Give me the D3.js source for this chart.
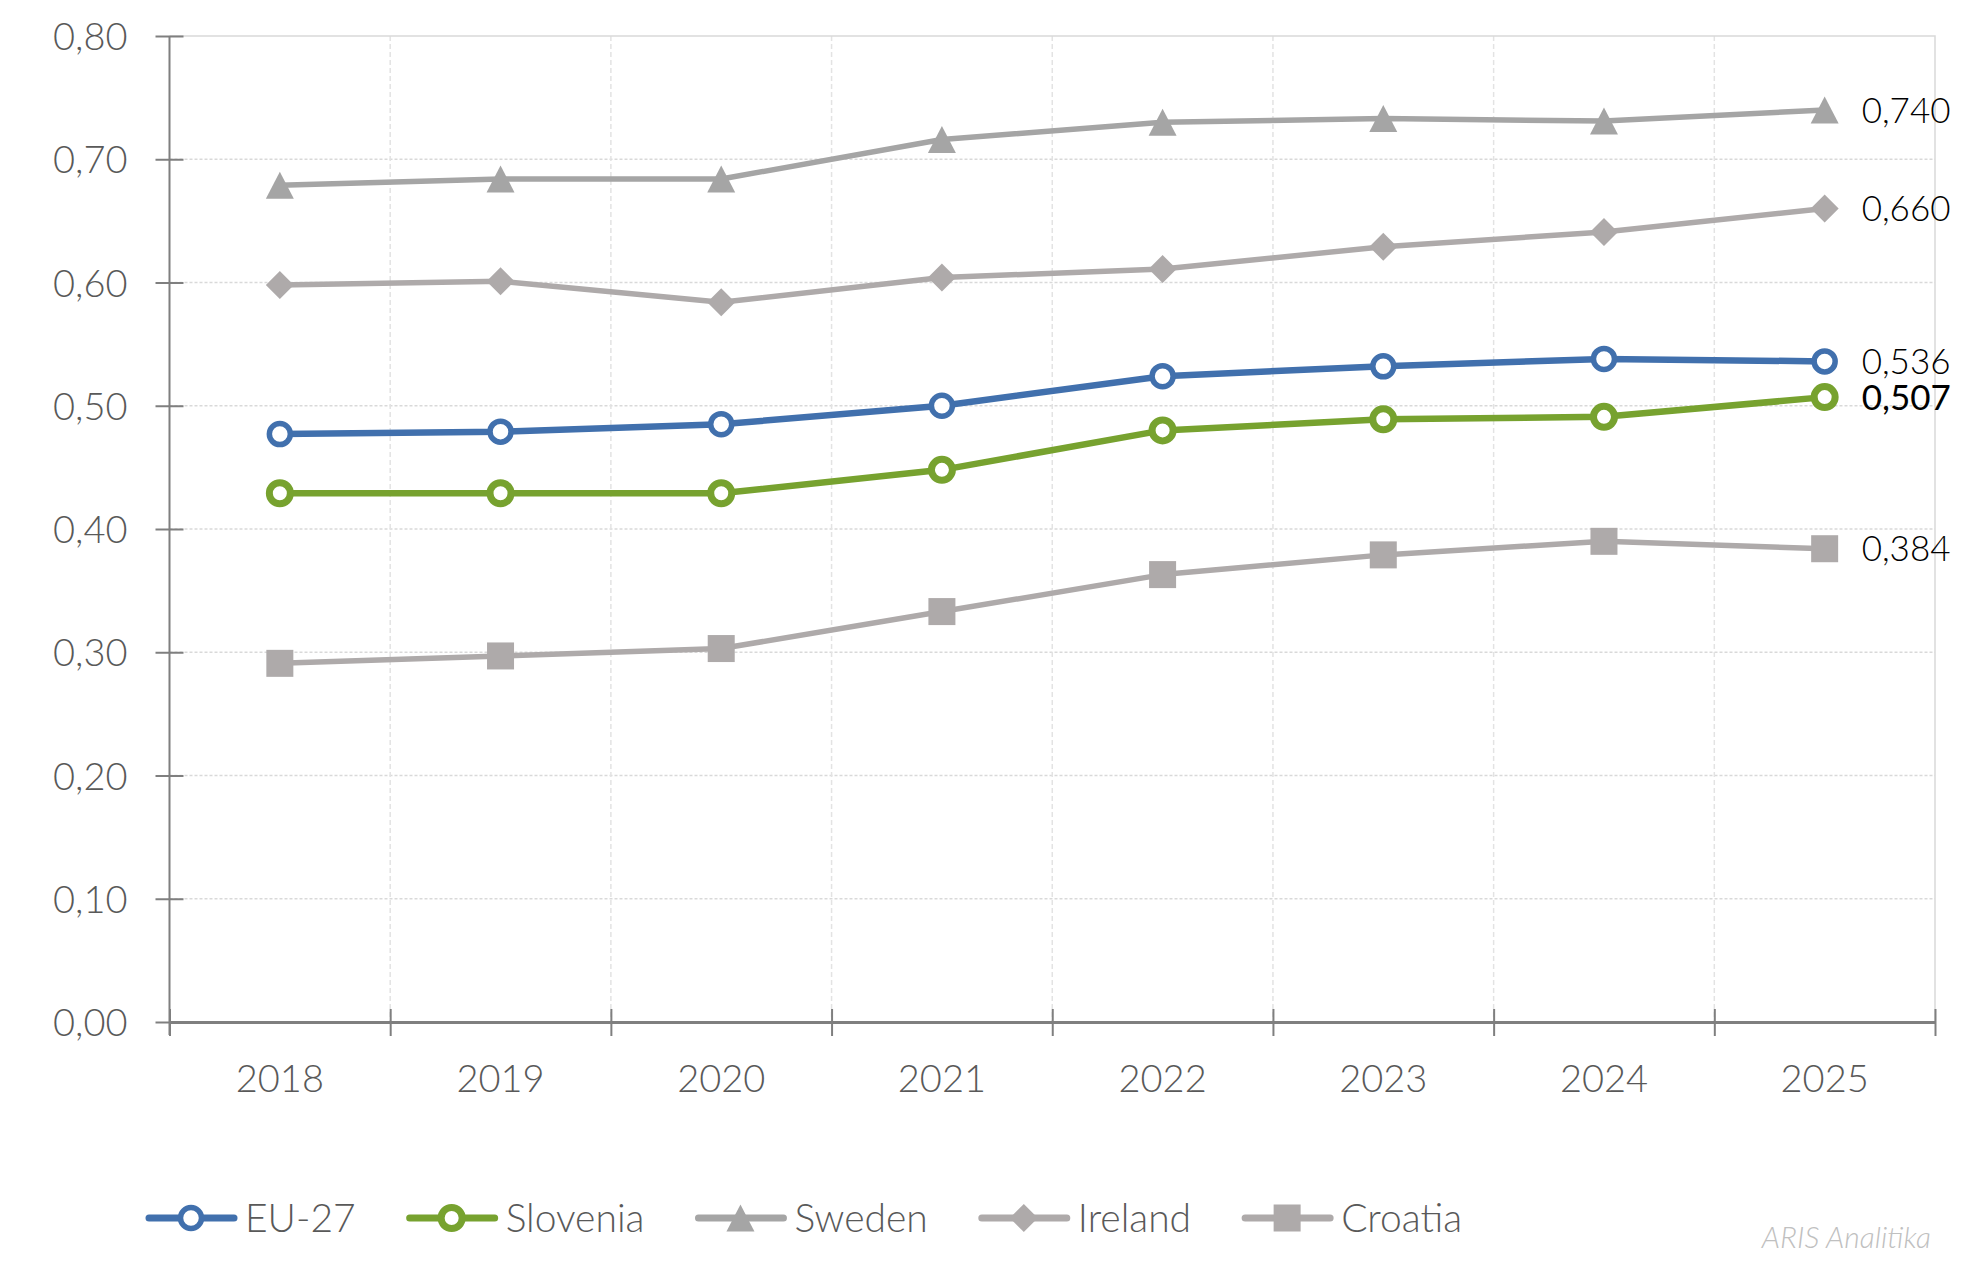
<!DOCTYPE html>
<html>
<head>
<meta charset="utf-8">
<script src="https://cdn.jsdelivr.net/npm/d3@7"></script>
<style>
  body { margin: 0; background: #fff; }
  text { font-family: Lato, 'Open Sans', sans-serif; font-weight: 300; }
</style>
</head>
<body>
<div id="chart-area"></div>
<script>
const years = ['2018', '2019', '2020', '2021', '2022', '2023', '2024', '2025']
const eu27 = [0.477, 0.479, 0.485, 0.500, 0.524, 0.532, 0.538, 0.536]
const slovenia = [0.429, 0.429, 0.429, 0.448, 0.480, 0.489, 0.491, 0.507]
const sweden = [0.679, 0.684, 0.684, 0.716, 0.730, 0.733, 0.731, 0.740]
const ireland = [0.598, 0.601, 0.584, 0.604, 0.611, 0.629, 0.641, 0.660]
const croatia = [0.291, 0.297, 0.303, 0.333, 0.363, 0.379, 0.390, 0.384]
const yTicks = [0, 0.1, 0.2, 0.3, 0.4, 0.5, 0.6, 0.7, 0.8]

const series = [
  { name: 'EU-27', values: eu27, color: '#4170ad', marker: 'circle', lineWidth: 6.5, ring: 5.5 },
  { name: 'Slovenia', values: slovenia, color: '#77a22f', marker: 'circle', lineWidth: 6.5, ring: 7 },
  { name: 'Sweden', values: sweden, color: '#a5a5a5', marker: 'triangle', lineWidth: 5.5 },
  { name: 'Ireland', values: ireland, color: '#aeaaaa', marker: 'diamond', lineWidth: 5.5 },
  { name: 'Croatia', values: croatia, color: '#aeaaaa', marker: 'square', lineWidth: 5.5 }
]

const width = 1985
const height = 1263
const margin = { top: 36, right: 50, bottom: 241, left: 169.5 }
const innerWidth = width - margin.left - margin.right
const innerHeight = height - margin.top - margin.bottom

const locale = d3.formatLocale({ decimal: ',', thousands: '.', grouping: [3], currency: ['', '€'] })
const fmtTick = locale.format('.2f')
const fmtValue = locale.format('.3f')

const svg = d3.select('#chart-area')
  .append('svg')
    .attr('width', width)
    .attr('height', height)

const g = svg.append('g')
  .attr('transform', `translate(${margin.left}, ${margin.top})`)

const x = d3.scaleBand()
  .domain(years)
  .range([0, innerWidth])
  .padding(0)

const xEdges = d3.scaleLinear()
  .domain([0, years.length])
  .range([0, innerWidth])

const y = d3.scaleLinear()
  .domain([0, 0.8])
  .range([innerHeight, 0])

const cx = d => x(d) + x.bandwidth() / 2

// grid
g.append('g')
  .selectAll('line')
  .data(yTicks.slice(1, -1))
  .enter().append('line')
    .attr('x1', 0)
    .attr('x2', innerWidth)
    .attr('y1', d => y(d))
    .attr('y2', d => y(d))
    .attr('stroke', '#d9d9d9')
    .attr('stroke-width', 1.5)
    .attr('stroke-dasharray', '3,2')

g.append('g')
  .selectAll('line')
  .data(d3.range(1, years.length))
  .enter().append('line')
    .attr('x1', d => xEdges(d))
    .attr('x2', d => xEdges(d))
    .attr('y1', 0)
    .attr('y2', innerHeight)
    .attr('stroke', '#e3e3e3')
    .attr('stroke-width', 1.5)
    .attr('stroke-dasharray', '5,3')

g.append('path')
  .attr('d', `M0,${y(0.8)}H${innerWidth}V${innerHeight}`)
  .attr('fill', 'none')
  .attr('stroke', '#d9d9d9')
  .attr('stroke-width', 1.5)

// y axis
const yAxisCall = d3.axisLeft(y)
  .tickValues(yTicks)
  .tickSize(0)
  .tickFormat(d => fmtTick(d))
const yAxis = g.append('g').call(yAxisCall)
  .attr('font-size', null)
  .attr('font-family', null)
yAxis.select('.domain').remove()
yAxis.append('line')
  .attr('y1', y(0.8))
  .attr('y2', innerHeight + 13)
  .attr('stroke', '#7f7f7f')
  .attr('stroke-width', 2)
yAxis.selectAll('.tick line')
  .attr('x1', -14)
  .attr('x2', 14)
  .attr('stroke', '#7f7f7f')
  .attr('stroke-width', 2)
yAxis.selectAll('.tick text')
  .attr('x', -42)
  .attr('dy', '0.36em')
  .attr('fill', '#595959')
  .style('font-size', '38px')

// x axis
const xAxisCall = d3.axisBottom(x).tickSize(0)
const xAxis = g.append('g')
  .attr('transform', `translate(0, ${innerHeight})`)
  .call(xAxisCall)
  .attr('font-size', null)
  .attr('font-family', null)
xAxis.select('.domain')
  .attr('stroke', '#7f7f7f')
  .attr('stroke-width', 3)
xAxis.selectAll('.tick text')
  .attr('y', 70)
  .attr('dy', 0)
  .attr('fill', '#595959')
  .style('font-size', '38px')

const edgeAxis = g.append('g')
  .attr('transform', `translate(0, ${innerHeight})`)
  .call(d3.axisBottom(xEdges).tickValues(d3.range(0, years.length + 1)).tickFormat(''))
edgeAxis.select('.domain').remove()
edgeAxis.selectAll('.tick text').remove()
edgeAxis.selectAll('.tick line')
  .attr('y1', -13)
  .attr('y2', 14)
  .attr('stroke', '#7f7f7f')
  .attr('stroke-width', 2)

// markers
function drawMarker(sel, s) {
  if (s.marker === 'circle') {
    sel.append('circle')
      .attr('r', 10.5)
      .attr('fill', '#fff')
      .attr('stroke', s.color)
      .attr('stroke-width', s.ring)
  } else if (s.marker === 'triangle') {
    sel.append('path')
      .attr('d', 'M0,-13.5L14,13.5L-14,13.5Z')
      .attr('fill', s.color)
  } else if (s.marker === 'diamond') {
    sel.append('path')
      .attr('d', 'M0,-14L14,0L0,14L-14,0Z')
      .attr('fill', s.color)
  } else {
    sel.append('rect')
      .attr('x', -13.5)
      .attr('y', -13.5)
      .attr('width', 27)
      .attr('height', 27)
      .attr('fill', s.color)
  }
}

const line = d3.line()
  .x(d => cx(d.year))
  .y(d => y(d.value))

series.slice().reverse().forEach(s => {
  const pts = years.map((year, i) => ({ year, value: s.values[i] }))
  const sg = g.append('g')
  sg.append('path')
    .datum(pts)
    .attr('d', line)
    .attr('fill', 'none')
    .attr('stroke', s.color)
    .attr('stroke-width', s.lineWidth)
    .attr('stroke-linejoin', 'round')
  sg.selectAll('.pt').data(pts).enter()
    .append('g')
      .attr('class', 'pt')
      .attr('transform', d => `translate(${cx(d.year)}, ${y(d.value)})`)
      .each(function () { drawMarker(d3.select(this), s) })

  // value label at the last year
  const last = pts[pts.length - 1]
  sg.append('text')
    .attr('x', cx(last.year) + 37)
    .attr('y', y(last.value))
    .attr('dy', '0.36em')
    .attr('fill', '#000')
    .style('font-size', '35px')
    .style('font-weight', s.name === 'Slovenia' ? 400 : 300)
    .text(fmtValue(last.value))
})

// legend
const legend = svg.append('g')
  .attr('transform', 'translate(146, 1218)')
let offset = 0
series.forEach(s => {
  const item = legend.append('g')
    .attr('transform', `translate(${offset}, 0)`)
  item.append('line')
    .attr('x1', 3)
    .attr('x2', 88)
    .attr('stroke', s.color)
    .attr('stroke-width', 7)
    .attr('stroke-linecap', 'round')
  const m = item.append('g').attr('transform', 'translate(45, 0)')
  drawMarker(m, s)
  const t = item.append('text')
    .attr('x', 99)
    .attr('dy', '0.36em')
    .attr('fill', '#595959')
    .style('font-size', '39px')
    .text(s.name)
  offset += 99 + t.node().getComputedTextLength() + 51
})

svg.append('text')
  .attr('x', 1931)
  .attr('y', 1248)
  .attr('text-anchor', 'end')
  .attr('fill', '#c0c0c0')
  .style('font-size', '30px')
  .style('font-style', 'italic')
  .text('ARIS Analitika')
</script>
</body>
</html>
